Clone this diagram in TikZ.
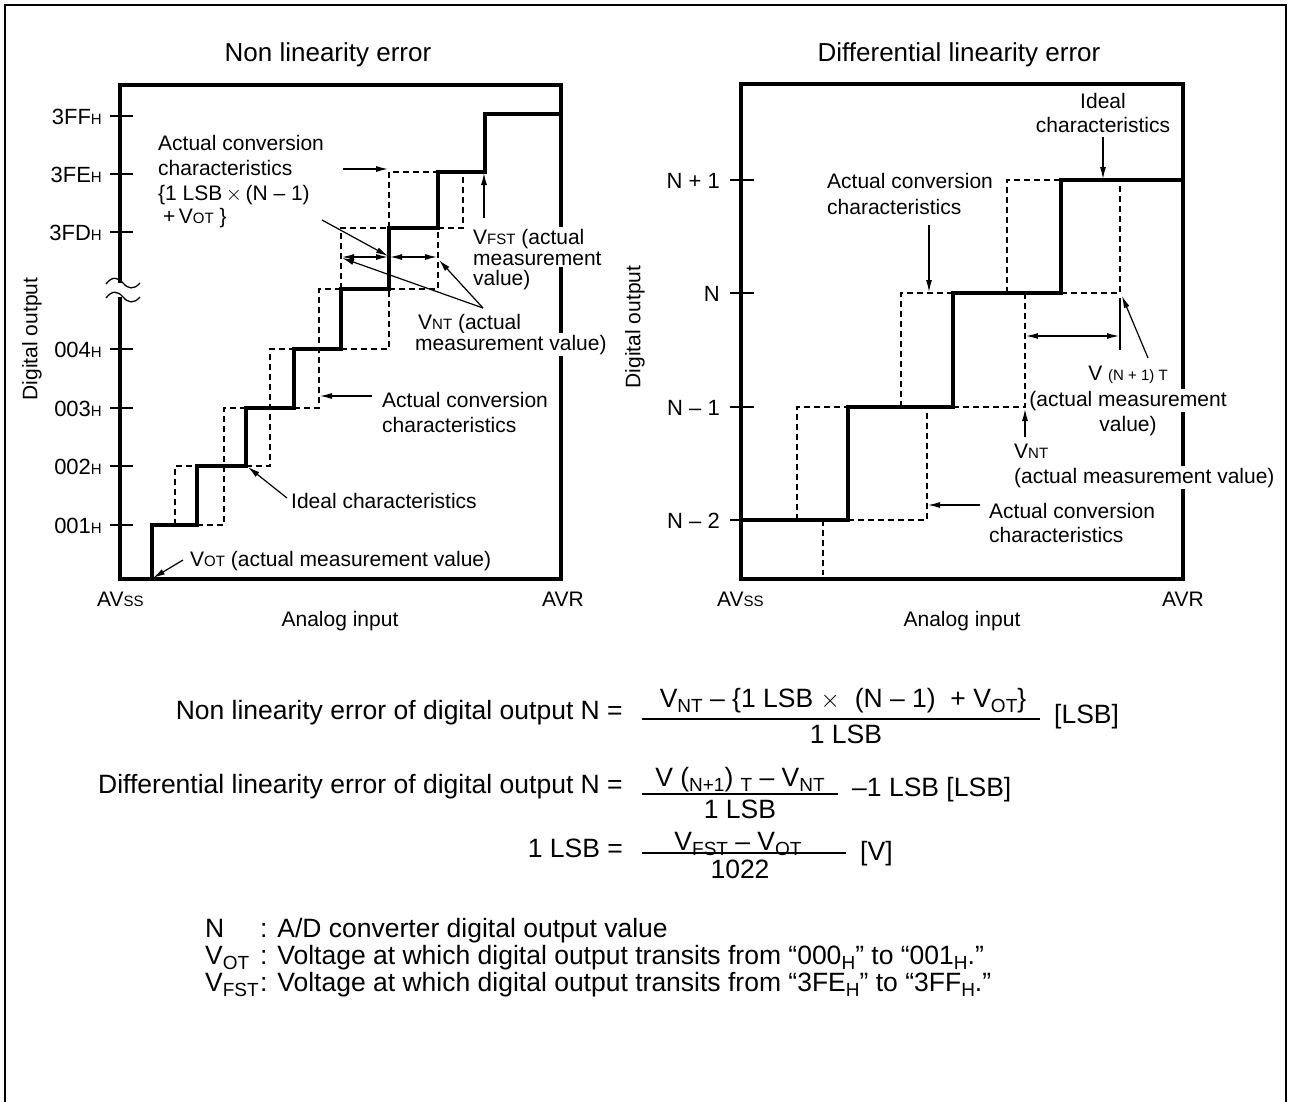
\documentclass[tikz,border=0pt]{standalone}
\usepackage{fontspec}
\setmainfont{Liberation Sans}
\usetikzlibrary{arrows.meta}
\newcommand{\sm}[1]{{\fontsize{15}{15}\selectfont #1}}
\newcommand{\sbs}[1]{\raisebox{-5.5pt}{\fontsize{19}{19}\selectfont #1}}
\begin{document}
\begin{tikzpicture}[x=1pt,y=-1pt,
  axl/.style={line width=3.2pt},
  ideal/.style={line width=3.2pt, line join=miter},
  act/.style={line width=1.3pt, dash pattern=on 6pt off 4pt},
  tk/.style={line width=1.5pt},
  arr/.style={line width=1.2pt, -{Latex[length=12pt,width=6pt]}},
  darr/.style={line width=1.2pt, {Latex[length=12pt,width=6pt]}-{Latex[length=12pt,width=6pt]}},
  lbl/.style={font=\fontsize{21}{25}\selectfont, inner sep=0pt},
  wlbl/.style={lbl, fill=white, inner sep=1.5pt},
  tkl/.style={font=\fontsize{22}{25}\selectfont, inner sep=0pt, anchor=base east},
  ttl/.style={font=\fontsize{26}{30}\selectfont, inner sep=0pt, anchor=base},
  fml/.style={font=\fontsize{26.5}{30}\selectfont, inner sep=0pt}]
\useasboundingbox (0,0) rectangle (1289,1101);
\fill[white] (0,0) rectangle (1289,1101);
% outer frame
\draw[line width=2.6pt] (5,1120) -- (5,5) -- (1286,5) -- (1286,1120);

% ================= LEFT CHART =================
\node[ttl] (t1) at (328,61) {Non linearity error};
\draw[axl] (120,283) -- (120,85) -- (561,85) -- (561,579) -- (120,579) -- (120,297);
% break marks
\draw[line width=1.3pt] (106,284) .. controls (112,276) and (118,277) .. (123,283) .. controls (128,289) and (134,290) .. (140,283);
\draw[line width=1.3pt] (106,298) .. controls (112,290) and (118,291) .. (123,297) .. controls (128,303) and (134,304) .. (140,297);
% ticks
\foreach \yy/\tx/\nm in {116/3FF/a,174/3FE/b,232/3FD/c,349/004/d,408/003/e,466/002/f,525/001/g}{
  \draw[tk] (110,\yy) -- (133,\yy);
  \node[tkl] (l\nm) at (102,\yy+8) {\tx\sm{H}};
}
\node[lbl, rotate=90] (dl) at (32,339) {Digital output};
\node[lbl, anchor=base west] (avss1) at (97,606) {AV\sm{SS}};
\node[lbl, anchor=base west] (avr1) at (542,606) {AVR};
\node[lbl, anchor=base] (ai1) at (340,626) {Analog input};
% ideal
\draw[ideal] (152,579) -- (152,525) -- (197,525) -- (197,466) -- (246,466) -- (246,408) -- (294,408) -- (294,349) -- (341,349) -- (341,289) -- (389,289) -- (389,228) -- (438,228) -- (438,172) -- (485,172) -- (485,114) -- (561,114);
% actual (dashed)
\draw[act] (175,525) -- (175,466) -- (197,466);
\draw[act] (197,525) -- (224,525) -- (224,408) -- (246,408);
\draw[act] (246,466) -- (270,466) -- (270,349) -- (294,349);
\draw[act] (294,408) -- (319,408) -- (319,289) -- (341,289);
\draw[act] (341,349) -- (389,349) -- (389,289);
\draw[act] (341,289) -- (341,228) -- (389,228);
\draw[act] (389,289) -- (438,289) -- (438,228);
\draw[act] (389,228) -- (389,172) -- (438,172);
\draw[act] (438,228) -- (463,228) -- (463,172);
% labels left
\node[lbl, anchor=base west] (ac1a) at (158,150) {Actual conversion};
\node[lbl, anchor=base west] (ac1b) at (158,175) {characteristics};
\node[lbl, anchor=base west] (ac1c) at (158,200) {\{1 LSB\,$\times$\,(N – 1)};
\node[lbl, anchor=base west] (ac1d) at (163,223) {+\,V\sm{OT} \}};
\draw[arr] (343,169) -- (388,169);
\draw[arr] (322,220) -- (388,256);
\draw[darr] (342,257) -- (388,257);
\draw[darr] (390,257) -- (437,257);
\node[wlbl, anchor=base west] (vf1) at (471.5,244) {V\sm{FST} (actual};
\node[wlbl, anchor=base west] (vf2) at (471.5,265) {measurement};
\node[wlbl, anchor=base west] (vf3) at (471.5,285) {value)};
\draw[arr] (484,218) -- (484,173);
\node[wlbl, anchor=base west] (vn1) at (416.5,329) {V\sm{NT} (actual};
\node[wlbl, anchor=base west] (vn2) at (413.5,350) {measurement value)};
\coordinate (vnc) at (483,308);
\draw[arr] (vnc) -- (342,258);
\draw[arr] (vnc) -- (439,260);
\node[lbl, anchor=base west] (ac2a) at (382,407) {Actual conversion};
\node[lbl, anchor=base west] (ac2b) at (382,432) {characteristics};
\draw[arr] (372,396) -- (320,396);
\node[lbl, anchor=base west] (id1) at (291,508) {Ideal characteristics};
\draw[arr] (287,498) -- (248,467);
\node[lbl, anchor=base west] (vo1) at (190,566) {V\sm{OT} (actual measurement value)};
\draw[arr] (183,560) -- (153,578);

% ================= RIGHT CHART =================
\node[ttl] (t2) at (959,61) {Differential linearity error};
\draw[axl] (741,84) rectangle (1183,579);
\foreach \yy/\tx/\nm in {180/N + 1/a,293/N/b,407/N – 1/c,520/N – 2/d}{
  \draw[tk] (730,\yy) -- (754,\yy);
  \node[tkl] (r\nm) at (720,\yy+8) {\tx};
}
\node[lbl, rotate=90] (dr) at (635,327) {Digital output};
\node[lbl, anchor=base west] (avss2) at (717,606) {AV\sm{SS}};
\node[lbl, anchor=base west] (avr2) at (1162,606) {AVR};
\node[lbl, anchor=base] (ai2) at (962,626) {Analog input};
\draw[ideal] (741,520) -- (848,520) -- (848,407) -- (953,407) -- (953,293) -- (1061,293) -- (1061,180) -- (1183,180);
\draw[act] (797,520) -- (797,407) -- (848,407);
\draw[act] (823,520) -- (823,575);
\draw[act] (848,520) -- (927,520) -- (927,407);
\draw[act] (901,407) -- (901,293) -- (953,293);
\draw[act] (953,407) -- (1025,407) -- (1025,293);
\draw[act] (1007,293) -- (1007,180) -- (1061,180);
\draw[act] (1061,293) -- (1120,293) -- (1120,180);
\node[lbl, anchor=base] (ri1) at (1103,108) {Ideal};
\node[lbl, anchor=base] (ri2) at (1103,132) {characteristics};
\draw[arr] (1103,137) -- (1103,179);
\node[lbl, anchor=base west] (ra1) at (827,188) {Actual conversion};
\node[lbl, anchor=base west] (ra2) at (827,214) {characteristics};
\draw[arr] (929,225) -- (929,292);
\draw[darr] (1026,336) -- (1119,336);
\draw[line width=1.2pt] (1120,298) -- (1120,350);
\node[lbl, anchor=base] (rv1) at (1128,380) {V \sm{(N + 1) T}};
\node[wlbl, anchor=base] (rv2) at (1128,406) {(actual measurement};
\node[lbl, anchor=base] (rv3) at (1128,431) {value)};
\draw[arr] (1148,358) -- (1122,296);
\node[lbl, anchor=base west] (rn1) at (1014,458) {V\sm{NT}};
\node[wlbl, anchor=base west] (rn2) at (1012.5,483) {(actual measurement value)};
\draw[arr] (1025,437) -- (1025,409);
\node[lbl, anchor=base west] (rc1) at (989,518) {Actual conversion};
\node[lbl, anchor=base west] (rc2) at (989,542) {characteristics};
\draw[arr] (980,505) -- (928,505);

% ================= FORMULAS =================
\node[fml, anchor=base east] (f1l) at (623,719) {Non linearity error of digital output N =};
\draw[line width=1.7pt] (642,719) -- (1040,719);
\node[fml, anchor=base] (f1n) at (843,707) {V\sbs{NT} – \{1 LSB $\times$\ \ (N – 1) \ + V\sbs{OT}\}};
\node[fml, anchor=base] (f1d) at (846,743) {1 LSB};
\node[fml, anchor=base west] (f1u) at (1054,723) {[LSB]};

\node[fml, anchor=base east] (f2l) at (623,793) {Differential linearity error of digital output N =};
\draw[line width=1.7pt] (642,794) -- (838,794);
\node[fml, anchor=base] (f2n) at (740,786) {V (\sbs{N+1}) \sbs{T} – V\sbs{NT}};
\node[fml, anchor=base] (f2d) at (740,818) {1 LSB};
\node[fml, anchor=base west] (f2u) at (852,796) {–1 LSB [LSB]};

\node[fml, anchor=base east] (f3l) at (623,857) {1 LSB =};
\draw[line width=1.7pt] (642,853) -- (846,853);
\node[fml, anchor=base] (f3n) at (738,850) {V\sbs{FST} – V\sbs{OT}};
\node[fml, anchor=base] (f3d) at (740,878) {1022};
\node[fml, anchor=base west] (f3u) at (860,860) {[V]};

% legend
\node[fml, anchor=base west] (g1a) at (205,937) {N};
\node[fml, anchor=base west] (g1b) at (260,937) {: A/D converter digital output value};
\node[fml, anchor=base west] (g2a) at (205,964) {V\sbs{OT}};
\node[fml, anchor=base west] (g2b) at (260,964) {: Voltage at which digital output transits from “000\sbs{H}” to “001\sbs{H}.”};
\node[fml, anchor=base west] (g3a) at (205,991) {V\sbs{FST}};
\node[fml, anchor=base west] (g3b) at (260,991) {: Voltage at which digital output transits from “3FE\sbs{H}” to “3FF\sbs{H}.”};
\end{tikzpicture}
\end{document}
